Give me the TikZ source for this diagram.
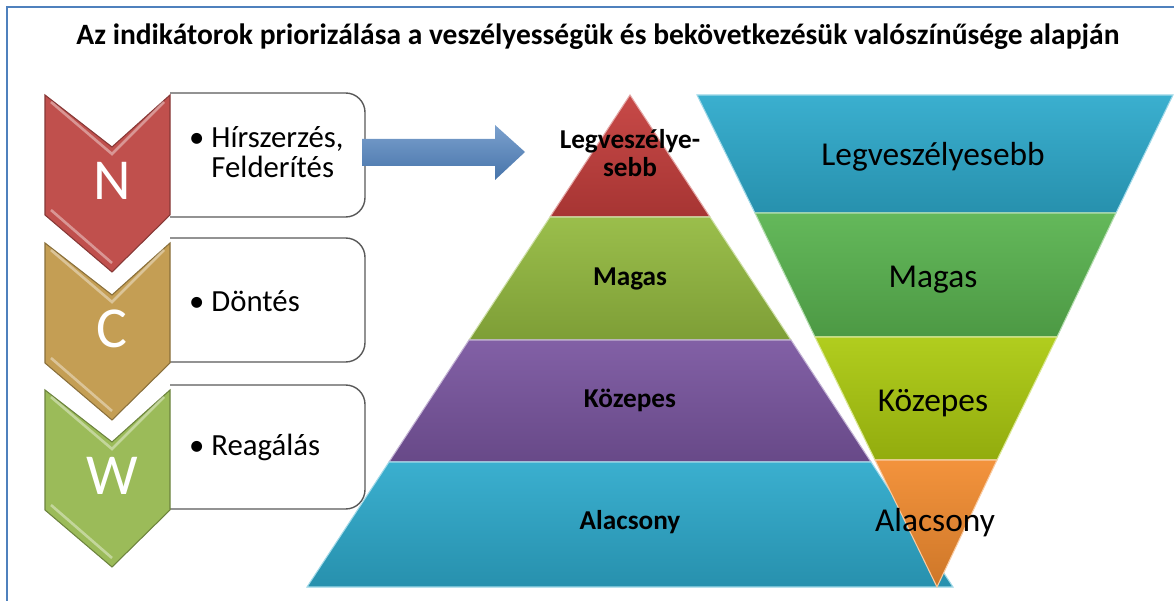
\documentclass[tikz,border=0pt]{standalone}
\usepackage{fontspec}
\setmainfont{Carlito}
\usetikzlibrary{positioning}
\definecolor{framecol}{RGB}{79,129,189}
\definecolor{arrcol}{RGB}{79,129,189}
\definecolor{ncol}{RGB}{192,80,77}
\definecolor{ccol}{RGB}{196,158,84}
\definecolor{wcol}{RGB}{155,187,89}
\definecolor{pyred}{RGB}{196,62,60}
\definecolor{pygreen}{RGB}{148,186,64}
\definecolor{pypurple}{RGB}{122,86,160}
\definecolor{pyblue}{RGB}{46,170,204}
\definecolor{invgreen}{RGB}{90,180,80}
\definecolor{invlime}{RGB}{172,202,16}
\definecolor{invorange}{RGB}{242,140,48}

\tikzset{
  titletext/.style={font=\bfseries\fontsize{16.8}{18}\selectfont},
  chevlabel/.style={text=white, font=\fontsize{33}{33}\selectfont},
  boxtext/.style={anchor=west, align=left, font=\fontsize{17.5}{17.5}\selectfont},
  itembox/.style={draw=black!65, line width=0.8pt, fill=white, rounded corners=11pt},
  layer/.style={top color=#1!94!white, bottom color=#1!85!black, draw=#1!45!white, line width=0.6pt},
  pylabel/.style={font=\bfseries\fontsize{15.5}{16}\selectfont, align=center},
  invlabel/.style={font=\fontsize{19}{21}\selectfont}
}

\begin{document}
\begin{tikzpicture}[x=0.02cm,y=-0.02cm]
\useasboundingbox (0,0) rectangle (1174,601);
\draw[framecol, line width=0.9pt] (7,601) -- (7,7) -- (1174,7);
\node[titletext] (title) at (598,37) {Az indikátorok priorizálása a veszélyességük és bekövetkezésük valószínűsége alapján};

\foreach \y in {93,238,385}{
  \begin{scope}
    \clip (170,\y-5) rectangle (380,\y+130);
    \draw[itembox] (140,\y) rectangle (365,\y+124);
  \end{scope}
}
\foreach \y/\c/\l in {95/ncol/N,243/ccol/C,390/wcol/W}{
  \filldraw[fill=\c, draw=\c!70!black, line width=0.6pt] (45,\y) -- (112,\y+52) -- (170,\y) -- (170,\y+120) -- (112,\y+177) -- (45,\y+120) -- cycle;
  \draw[white, opacity=0.4, line width=1.5pt] (51,\y+7) -- (112,\y+59) -- (164,\y+7);
  \draw[white, opacity=0.4, line width=1.5pt] (51,\y+115) -- (112,\y+168);
  \node[chevlabel] (chev\l) at (112,\y+86) {\l};
}
\node[boxtext] (ntext) at (183,152) {\textbullet\ Hírszerzés,\\\phantom{\textbullet\ }Felderítés};
\node[boxtext] (ctext) at (183,301) {\textbullet\ Döntés};
\node[boxtext] (wtext) at (183,447) {\textbullet\ Reagálás};

\shade[top color=arrcol!75!white, bottom color=arrcol!90!black] (362,139) -- (495,139) -- (495,125) -- (525,152) -- (495,180) -- (495,166) -- (362,166) -- cycle;

\path[layer=pyred] (630,95) -- (710,217) -- (550,217) -- cycle;
\path[layer=pygreen] (550,217) -- (710,217) -- (791,340) -- (469,340) -- cycle;
\path[layer=pypurple] (469,340) -- (791,340) -- (871,462) -- (389,462) -- cycle;
\path[layer=pyblue] (389,462) -- (871,462) -- (953,587) -- (307,587) -- cycle;
\node[pylabel] (py1) at (630,153) {Legveszélye-\\sebb};
\node[pylabel] (py2) at (630,279) {Magas};
\node[pylabel] (py3) at (630,400) {Közepes};
\node[pylabel] (py4) at (630,522) {Alacsony};

\path[layer=pyblue] (697,95) -- (1173,95) -- (1116,213) -- (755,213) -- cycle;
\path[layer=invgreen] (755,213) -- (1116,213) -- (1057,337) -- (815,337) -- cycle;
\path[layer=invlime] (815,337) -- (1057,337) -- (997,460) -- (875,460) -- cycle;
\path[layer=invorange] (875,460) -- (997,460) -- (937,587) -- cycle;
\node[invlabel] (inv1) at (933,157) {Legveszélyesebb};
\node[invlabel] (inv2) at (933,280) {Magas};
\node[invlabel] (inv3) at (933,403) {Közepes};
\node[invlabel] (inv4) at (935,523) {Alacsony};
\end{tikzpicture}
\end{document}
